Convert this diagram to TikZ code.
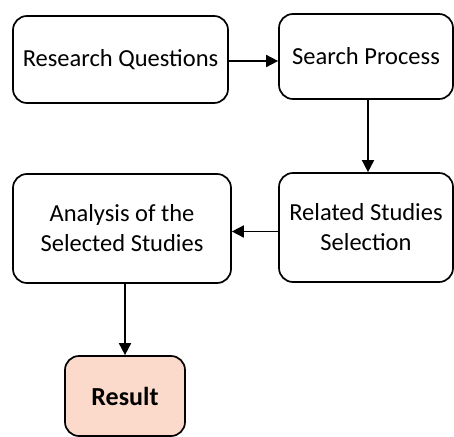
\documentclass[tikz,border=0pt]{standalone}
\usepackage{fontspec}
\setmainfont{Carlito}
\usetikzlibrary{arrows.meta}
\definecolor{peach}{HTML}{FBDACB}
\begin{document}
\begin{tikzpicture}[x=1pt,y=-1pt,
  box/.style={draw=black, line width=1.7pt, rounded corners=14pt, align=center,
    inner sep=0pt, font=\fontsize{24.5}{30}\selectfont},
  arr/.style={line width=1.7pt, -{Triangle[length=12pt,width=12pt]}}]
\useasboundingbox (0,0) rectangle (454,436);
\node[box, minimum width=215pt, minimum height=87pt] (b1) at (120.5,59.5) {Research Questions};
\node[box, minimum width=174pt, minimum height=85pt] (b2) at (366,56.5) {Search Process};
\node[box, minimum width=174pt, minimum height=109pt] (b3) at (366,227.5) {Related Studies\\Selection};
\node[box, minimum width=218pt, minimum height=109pt] (b4) at (122,228.5) {Analysis of the\\Selected Studies};
\node[box, fill=peach, minimum width=120pt, minimum height=80pt, font=\fontsize{26}{30}\selectfont\bfseries] (b5) at (125,396) {Result};
\draw[arr] ([yshift=-1.5pt]b1.east) -- ([yshift=-1.5pt]b1.east -| b2.west);
\draw[arr] ([xshift=2pt]b2.south) -- ([xshift=2pt]b3.north);
\draw[arr] ([yshift=-4pt]b3.west) -- ([yshift=-4pt]b3.west -| b4.east);
\draw[arr] (b4.south -| b5.north) -- (b5.north);
\end{tikzpicture}
\end{document}
